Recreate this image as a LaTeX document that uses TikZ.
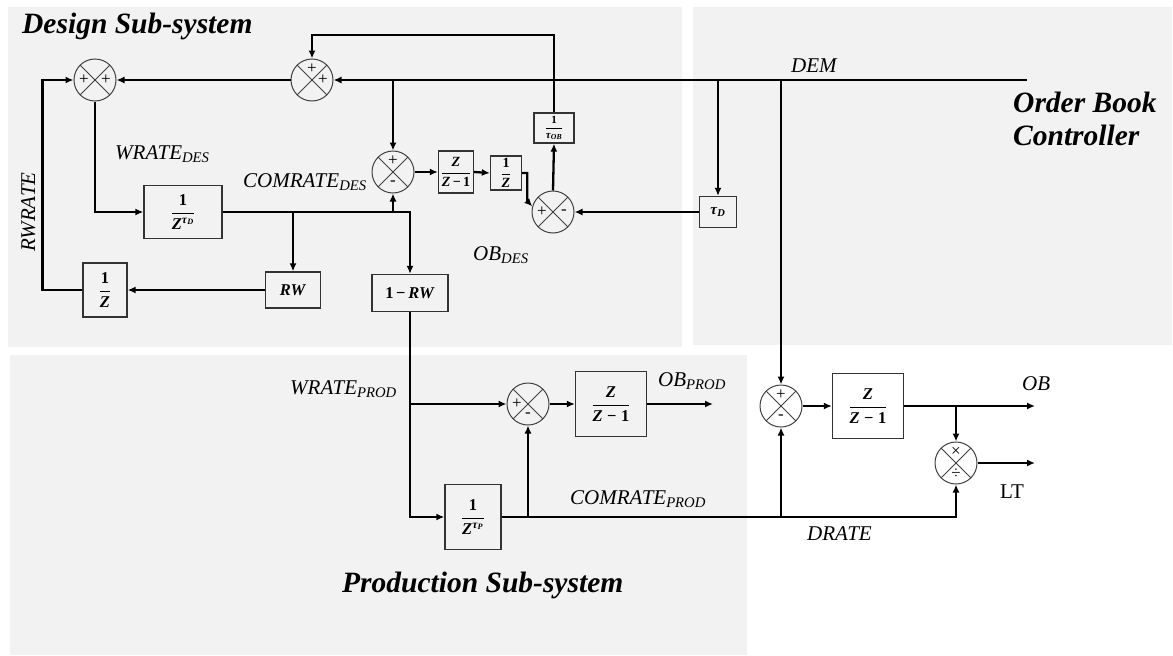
\documentclass[tikz,border=0pt]{standalone}
\usepackage{amsmath}
\usepackage{fontspec}
\setmainfont{Liberation Serif}
\usetikzlibrary{positioning,arrows.meta,calc}
\definecolor{panel}{HTML}{F2F2F2}
\newcommand{\bfit}[1]{\textbf{\textit{#1}}}

\tikzset{
  wire/.style={line width=2.3pt,->},
  blk/.style={draw=black!80,line width=1.3pt,inner sep=0pt,font=\fontsize{16.5}{18}\selectfont},
  sumj/.style={circle,draw=black!75,line width=1pt,minimum size=42pt,inner sep=0pt,
    path picture={
      \draw[black!75,line width=1pt] (path picture bounding box.north west) -- (path picture bounding box.south east);
      \draw[black!75,line width=1pt] (path picture bounding box.south west) -- (path picture bounding box.north east);}},
  sgn/.style={inner sep=0pt,font=\fontsize{17}{17}\selectfont},
  lbl/.style={inner sep=0pt,font=\fontsize{21}{24}\selectfont\itshape},
  ttl/.style={inner sep=0pt,align=left,font=\fontsize{29.5}{33}\selectfont\bfseries\itshape},
}

\begin{document}
\begin{tikzpicture}[>={Latex[length=8pt,width=7pt]},x=1pt,y=-1pt]
  \useasboundingbox (0,0) rectangle (1173,656);
  % panels
  \fill[panel] (8,7) rectangle (682,347);
  \fill[panel] (693,7) rectangle (1172,345);
  \fill[panel] (10,355) rectangle (747,655);
  \node[ttl,anchor=base west] (tdes) at (22,33) {Design Sub-system};
  \node[ttl,anchor=base west] (tobc) at (1013,145) {Order Book\\Controller};
  \node[ttl,anchor=base west] (tprod) at (342,592) {Production Sub-system};

  % summing junctions
  \node[sumj] (s1) at (95,80) {};
  \node[sumj] (s2) at (312,80) {};
  \node[sumj] (s3) at (393,172) {};
  \node[sumj] (s4) at (553,212) {};
  \node[sumj] (sp) at (528,404) {};
  \node[sumj] (so) at (781,406) {};
  \node[sumj] (sm) at (956,463) {};
  \node[sgn] at ($(s1)+(-11,0)$) {+}; \node[sgn] at ($(s1)+(11,0)$) {+};
  \node[sgn] at ($(s2)+(0,-11)$) {+}; \node[sgn] at ($(s2)+(11,0)$) {+};
  \node[sgn] at ($(s3)+(0,-11)$) {+}; \node[sgn] at ($(s3)+(0,11)$) {-};
  \node[sgn] at ($(s4)+(-11,0)$) {+}; \node[sgn] at ($(s4)+(11,0)$) {-};
  \node[sgn] at ($(sp)+(-11,0)$) {+}; \node[sgn] at ($(sp)+(0,11)$) {-};
  \node[sgn] at ($(so)+(0,-11)$) {+}; \node[sgn] at ($(so)+(0,11)$) {-};
  \node[sgn] at ($(sm)+(0,-11)$) {×}; \node[sgn] at ($(sm)+(0,11)$) {÷};

  % blocks
  \node[blk,minimum width=78pt,minimum height=53pt] (bd) at (183,212) {$\dfrac{\textbf{1}}{\bfit{Z}^{\bfit{τ}_{\bfit{D}}}}$};
  \node[blk,minimum width=44pt,minimum height=54pt] (bz) at (105,290) {$\dfrac{\textbf{1}}{\bfit{Z}}$};
  \node[blk,minimum width=55pt,minimum height=36pt] (brw) at (293,290) {\bfit{RW}};
  \node[blk,minimum width=76pt,minimum height=37pt] (bnr) at (410,293) {\textbf{1\,−\,\textit{RW}}};
  \node[blk,minimum width=35pt,minimum height=42pt,font=\fontsize{14}{16}\selectfont] (bi) at (456,172) {$\dfrac{\bfit{Z}}{\textbf{\textit{Z}\,−\,1}}$};
  \node[blk,minimum width=31pt,minimum height=34pt,font=\fontsize{14}{16}\selectfont] (bu) at (506,173) {$\dfrac{\textbf{1}}{\bfit{Z}}$};
  \node[blk,minimum width=40pt,minimum height=30pt,font=\fontsize{11}{12}\selectfont] (bt) at (554,128) {$\dfrac{\textbf{1}}{\bfit{τ}_{\bfit{OB}}}$};
  \node[blk,minimum width=37pt,minimum height=31pt,font=\fontsize{15}{16}\selectfont] (btd) at (718,212) {$\bfit{τ}_{\bfit{D}}$};
  \node[blk,minimum width=71pt,minimum height=65pt] (bp) at (611,404) {$\dfrac{\bfit{Z}}{\textbf{\textit{Z}\;−\;1}}$};
  \node[blk,minimum width=56pt,minimum height=65pt] (bdp) at (473,517) {$\dfrac{\textbf{1}}{\bfit{Z}^{\bfit{τ}_{\bfit{P}}}}$};
  \node[blk,minimum width=71pt,minimum height=65pt] (bo) at (868,406) {$\dfrac{\bfit{Z}}{\textbf{\textit{Z}\;−\;1}}$};

  % free ends
  \coordinate (demin) at (1027,80);
  \coordinate (fbtop) at (554,35);
  \coordinate (obpout) at (713,404);
  \coordinate (obout) at (1035,406);
  \coordinate (ltout) at (1035,463);

  % design loop
  \draw[wire] (demin) -- (s2.east);
  \draw[wire] (s3.north |- demin) -- (s3.north);
  \draw[wire] (btd.north |- demin) -- (btd.north);
  \draw[wire] (so.north |- demin) -- (so.north);
  \draw[wire] (bt.north) -- (fbtop) -| (s2.north);
  \draw[wire] (s2.west) -- (s1.east);
  \draw[wire] (bz.west) -- ++(-40,0) |- (s1.west);
  \draw[wire] (s1.south) |- (bd.west);
  \draw[wire] (bd.east) -| (bnr.north);
  \draw[wire] (brw.north |- bd.east) -- (brw.north);
  \draw[wire] (s3.south |- bd.east) -- (s3.south);
  \draw[wire] (brw.west) -- (bz.east);
  \draw[wire] (s3.east) -- (bi.west);
  \draw[wire] (bi.east) -- (bu.west);
  \draw[wire] (bu.east) -- ++(5,0) -- ++(0,28) -- (s4.165);
  \draw[wire] (s4.north) -- (bt.south);
  \draw[wire] (btd.west) -- (s4.east);

  % production and order book
  \draw[wire] (bnr.south) |- (bdp.west);
  \draw[wire] (bnr.south |- sp.west) -- (sp.west);
  \draw[wire] (sp.east) -- (bp.west);
  \draw[wire] (bp.east) -- (obpout);
  \draw[wire] (bdp.east) -| (sm.south);
  \draw[wire] (sp.south |- bdp.east) -- (sp.south);
  \draw[wire] (so.south |- bdp.east) -- (so.south);
  \draw[wire] (so.east) -- (bo.west);
  \draw[wire] (bo.east) -- (obout);
  \draw[wire] (sm.north |- bo.east) -- (sm.north);
  \draw[wire] (sm.east) -- (ltout);

  % signal names
  \node[lbl,anchor=base west] (lwd) at (115,159) {WRATE\textsubscript{DES}};
  \node[lbl,anchor=base west] (lcd) at (243,187) {COMRATE\textsubscript{DES}};
  \node[lbl,anchor=base west,rotate=90] (lrw) at (35,252) {RWRATE};
  \node[lbl,anchor=base west] (ldem) at (791,72) {DEM};
  \node[lbl,anchor=base west] (lobd) at (473,260) {$\textit{OB}_{\textit{DES}}$};
  \node[lbl,anchor=base west] (lwp) at (290,394) {WRATE\textsubscript{PROD}};
  \node[lbl,anchor=base west] (lobp) at (658,386) {$\textit{OB}_{\textit{PROD}}$};
  \node[lbl,anchor=base west] (lcp) at (570,504) {COMRATE\textsubscript{PROD}};
  \node[lbl,anchor=base west] (lob) at (1022,390) {OB};
  \node[lbl,anchor=base west,font=\fontsize{21}{24}\selectfont\upshape] (llt) at (1000,498) {LT};
  \node[lbl,anchor=base west] (ldr) at (807,540) {DRATE};
\end{tikzpicture}
\end{document}
